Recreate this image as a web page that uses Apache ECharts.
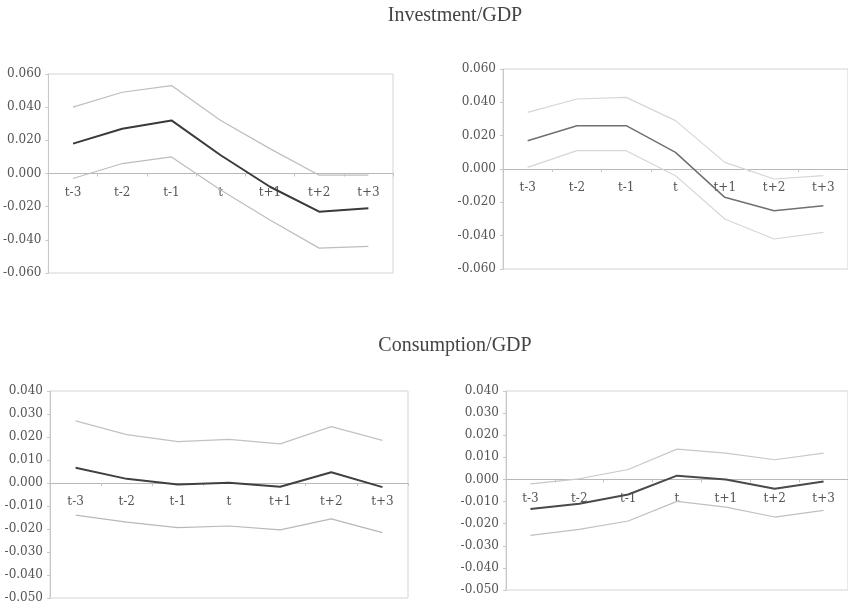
<html>
    <head>
        <meta charset="utf-8">
        <script src="https://cdn.jsdelivr.net/npm/echarts@6/dist/echarts.min.js"></script>
    </head>
    <body>
        <style>
            html, body, #main {
                width: 100%;
                height: 100%;
                margin: 0;
                background: #fff;
            }
        </style>
        <div id="main"></div>
        <script>
            var periods = ['t-3', 't-2', 't-1', 't', 't+1', 't+2', 't+3'];

            // Investment/GDP, left panel
            var invLeftUpper = [0.040, 0.049, 0.053, 0.032, 0.015, -0.001, -0.001];
            var invLeftMean  = [0.018, 0.027, 0.032, 0.011, -0.008, -0.023, -0.021];
            var invLeftLower = [-0.003, 0.006, 0.010, -0.010, -0.028, -0.045, -0.044];

            // Investment/GDP, right panel
            var invRightUpper = [0.034, 0.042, 0.043, 0.029, 0.004, -0.006, -0.004];
            var invRightMean  = [0.017, 0.026, 0.026, 0.010, -0.017, -0.025, -0.022];
            var invRightLower = [0.001, 0.011, 0.011, -0.004, -0.030, -0.042, -0.038];

            // Consumption/GDP, left panel
            var conLeftUpper = [0.027, 0.021, 0.018, 0.019, 0.017, 0.0245, 0.0185];
            var conLeftMean  = [0.0066, 0.0018, -0.0007, 0.0001, -0.0016, 0.0047, -0.0018];
            var conLeftLower = [-0.014, -0.017, -0.0194, -0.0187, -0.0204, -0.0156, -0.0216];

            // Consumption/GDP, right panel
            var conRightUpper = [-0.002, 0.0003, 0.0045, 0.0137, 0.0119, 0.0089, 0.0119];
            var conRightMean  = [-0.0134, -0.011, -0.0068, 0.0017, 0.0, -0.0042, -0.0009];
            var conRightLower = [-0.0253, -0.0226, -0.0188, -0.0099, -0.0125, -0.017, -0.014];

            var chart = echarts.init(document.getElementById('main'));

            var serif = 'DejaVu Serif';

            var grids = [
                {left: 47, top: 74, width: 346, height: 199},
                {left: 503, top: 69, width: 346, height: 200},
                {left: 50, top: 391, width: 358, height: 207},
                {left: 506, top: 391, width: 345, height: 199}
            ];
            grids.forEach(function (g) {
                g.show = true;
                g.borderColor = '#d4d4d4';
                g.borderWidth = 1;
                g.backgroundColor = 'transparent';
            });

            var ranges = [
                [-0.06, 0.06, 0.02],
                [-0.06, 0.06, 0.02],
                [-0.05, 0.04, 0.01],
                [-0.05, 0.04, 0.01]
            ];

            // labels sit under the zero line, so lift the whole x axis up to it
            function xAxis(i) {
                var r = ranges[i];
                var lift = (0 - r[0]) / (r[1] - r[0]) * grids[i].height;
                return {
                    type: 'category',
                    gridIndex: i,
                    data: periods,
                    boundaryGap: true,
                    offset: -lift,
                    axisLine: {onZero: false, lineStyle: {color: '#b8b8b8', width: 1}},
                    axisTick: {show: true, length: 3, lineStyle: {color: '#c4c4c4'}},
                    axisLabel: {
                        margin: 13,
                        color: '#555',
                        fontFamily: serif,
                        fontSize: 12
                    },
                    splitLine: {show: false}
                };
            }

            function yAxis(i) {
                var r = ranges[i];
                return {
                    type: 'value',
                    gridIndex: i,
                    min: r[0],
                    max: r[1],
                    interval: r[2],
                    axisLine: {show: true, lineStyle: {color: '#c8c8c8'}},
                    axisTick: {show: true, length: 3, lineStyle: {color: '#c8c8c8'}},
                    axisLabel: {
                        margin: 7,
                        color: '#555',
                        fontFamily: serif,
                        fontSize: 12,
                        formatter: function (v) { return v.toFixed(3); }
                    },
                    splitLine: {show: false}
                };
            }

            function line(i, data, color, width) {
                return {
                    type: 'line',
                    xAxisIndex: i,
                    yAxisIndex: i,
                    data: data,
                    symbol: 'none',
                    lineStyle: {color: color, width: width},
                    z: width > 1.3 ? 3 : 2
                };
            }

            chart.setOption({
                animation: false,
                grid: grids,
                xAxis: [xAxis(0), xAxis(1), xAxis(2), xAxis(3)],
                yAxis: [yAxis(0), yAxis(1), yAxis(2), yAxis(3)],
                graphic: [{
                    type: 'text',
                    x: 455,
                    y: 6,
                    style: {
                        text: 'Investment/GDP',
                        fill: '#444',
                        font: '20px "Liberation Serif"',
                        textAlign: 'center',
                        textVerticalAlign: 'top'
                    }
                }, {
                    type: 'text',
                    x: 455,
                    y: 336,
                    style: {
                        text: 'Consumption/GDP',
                        fill: '#444',
                        font: '20px "Liberation Serif"',
                        textAlign: 'center',
                        textVerticalAlign: 'top'
                    }
                }],
                series: [
                    line(0, invLeftUpper, '#bdbdbd', 1.2),
                    line(0, invLeftMean, '#3a3a3a', 2),
                    line(0, invLeftLower, '#bdbdbd', 1.2),

                    line(1, invRightUpper, '#d6d6d6', 1.2),
                    line(1, invRightMean, '#707070', 1.5),
                    line(1, invRightLower, '#d6d6d6', 1.2),

                    line(2, conLeftUpper, '#c2c2c2', 1.2),
                    line(2, conLeftMean, '#404040', 2),
                    line(2, conLeftLower, '#b8b8b8', 1.2),

                    line(3, conRightUpper, '#c8c8c8', 1.2),
                    line(3, conRightMean, '#4a4a4a', 2),
                    line(3, conRightLower, '#c0c0c0', 1.2)
                ]
            });
        </script>
    </body>
</html>
